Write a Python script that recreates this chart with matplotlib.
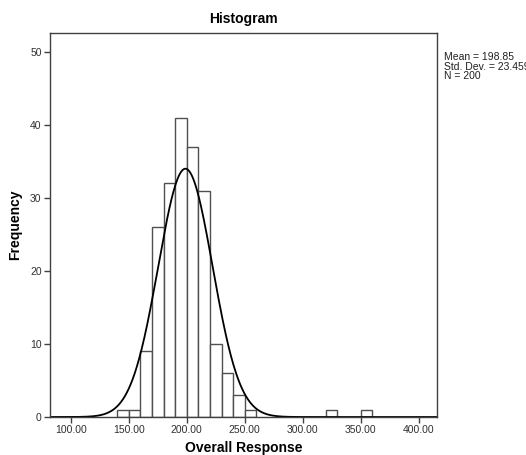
import matplotlib
matplotlib.use("Agg")
import matplotlib.pyplot as plt
import numpy as np

# histogram bins (width 10) and counts
bin_left = [140, 150, 160, 170, 180, 190, 200, 210, 220, 230, 240, 250, 320, 350]
counts = [1, 1, 9, 26, 32, 41, 37, 31, 10, 6, 3, 1, 1, 1]
bin_width = 10

mean = 198.85
std_dev = 23.459
n_total = 200

x_ticks = [100, 150, 200, 250, 300, 350, 400]
y_ticks = [0, 10, 20, 30, 40, 50]

plt.rcParams["font.family"] = ["Liberation Sans", "DejaVu Sans"]

fig = plt.figure(figsize=(5.26, 4.55), dpi=100)
ax = fig.add_axes([0.095, 0.0835, 0.736, 0.844])

ax.bar(bin_left, counts, width=bin_width, align="edge",
       facecolor="white", edgecolor="#505050", linewidth=1.0)

# fitted normal curve scaled to counts per bin
xs = np.linspace(82, 416, 600)
pdf = n_total * bin_width / (std_dev * np.sqrt(2 * np.pi)) * np.exp(-0.5 * ((xs - mean) / std_dev) ** 2)
ax.plot(xs, pdf, color="black", linewidth=1.3)

ax.set_xlim(82, 416)
ax.set_ylim(0, 52.6)
ax.set_xticks(x_ticks)
ax.set_xticklabels([f"{v:.2f}" for v in x_ticks])
ax.set_yticks(y_ticks)
ax.tick_params(axis="both", direction="out", length=4, width=1, color="#404040",
               labelsize=7.5, labelcolor="#303030", pad=2)
for spine in ax.spines.values():
    spine.set_color("#404040")
    spine.set_linewidth(1.0)

ax.set_xlabel("Overall Response", fontsize=10, fontweight="bold", labelpad=4)
ax.set_ylabel("Frequency", fontsize=10, fontweight="bold", labelpad=6)
ax.set_title("Histogram", fontsize=10, fontweight="bold", pad=7)

fig.text(444 / 526, 1 - 52 / 455,
         f"Mean = {mean:.2f}\nStd. Dev. = {std_dev:.3f}\nN = {n_total}",
         fontsize=7.5, va="top", ha="left", linespacing=0.95, color="#202020")

fig.savefig("out.png", dpi=100)
